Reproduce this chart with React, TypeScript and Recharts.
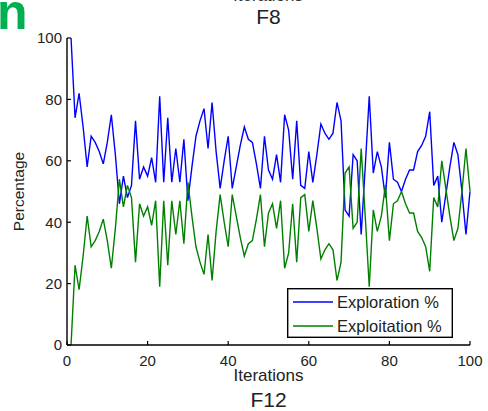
import React from 'react';
import { LineChart, Line, XAxis, YAxis, Legend } from 'recharts';

const iterations: number[] = Array.from({ length: 100 }, (_, i) => i + 1);

const exploration: number[] = [
  100, 74, 82, 71, 58, 68, 66, 63, 59, 66,
  75, 62, 46, 55, 48, 52, 73, 54, 58, 55,
  61, 53, 81, 53, 74, 53, 64, 53, 67, 47,
  58, 68, 73, 77, 64, 79, 63, 51, 60, 68,
  51, 58, 65, 71, 67, 66, 59, 51, 68, 57,
  54, 62, 53, 75, 70, 54, 73, 52, 51, 63,
  53, 62, 72, 69, 67, 69, 79, 73, 44, 42,
  62, 60, 36, 58, 81, 56, 63, 58, 48, 66,
  54, 53, 50, 54, 57, 57, 63, 65, 68, 76,
  52, 55, 40, 49, 58, 66, 62, 50, 36, 50,
];

const exploitation: number[] = [
  0, 26, 18, 29, 42, 32, 34, 37, 41, 34,
  25, 38, 54, 45, 52, 48, 27, 46, 42, 45,
  39, 47, 19, 47, 26, 47, 36, 47, 33, 53,
  42, 32, 27, 23, 36, 21, 37, 49, 40, 32,
  49, 42, 35, 29, 33, 34, 41, 49, 32, 43,
  46, 38, 47, 25, 30, 46, 27, 48, 49, 37,
  47, 38, 28, 31, 33, 31, 21, 27, 56, 58,
  38, 40, 64, 42, 19, 44, 37, 42, 52, 34,
  46, 47, 50, 46, 43, 43, 37, 35, 32, 24,
  48, 45, 60, 51, 42, 34, 38, 50, 64, 50,
];

const xTicks: number[] = [0, 20, 40, 60, 80, 100];
const yTicks: number[] = [0, 20, 40, 60, 80, 100];
const seriesNames: string[] = ['Exploration %', 'Exploitation %'];
const seriesKeys: string[] = ['exploration', 'exploitation'];
const seriesColors: string[] = ['#0000ff', '#008000'];
const topTitle = 'F8';
const bottomTitle = 'F12';
const cutText = 'Iterations';
const cornerLetter = 'n';
const xLabel = 'Iterations';
const yLabel = 'Percentage';

const data = iterations.map((it, i) => ({
  it,
  exploration: exploration[i],
  exploitation: exploitation[i],
}));

const FONT = '"Liberation Sans", Arial, Helvetica, sans-serif';
const AXIS = { stroke: '#000', strokeWidth: 1.4 };

const renderLegend = (props: any) => {
  const payload = ((props.payload || []) as any[])
    .slice()
    .sort((a: any, b: any) => seriesNames.indexOf(a.value) - seriesNames.indexOf(b.value));
  return (
    <svg width={166} height={50} style={{ display: 'block' }}>
      <rect x={0.7} y={0.7} width={164.6} height={48.6} fill="#fff" stroke="#000" strokeWidth={1.4} />
      {payload.map((entry: any, i: number) => (
        <g key={i}>
          <line x1={6} x2={46} y1={14 + i * 24} y2={14 + i * 24} stroke={entry.color} strokeWidth={1.4} />
          <text x={50} y={14 + i * 24 + 6} fontSize={16.5} fontFamily={FONT} fill="#222">
            {entry.value}
          </text>
        </g>
      ))}
    </svg>
  );
};

const YLabel = (props: any) => {
  const vb = props.viewBox || { x: 0, y: 0, width: 0, height: 0 };
  const cx = 18;
  const cy = vb.y + vb.height / 2;
  return (
    <text
      x={cx}
      y={cy}
      transform={`rotate(-90, ${cx}, ${cy})`}
      textAnchor="middle"
      dominantBaseline="central"
      fontSize={15.5}
      fontFamily={FONT}
      fill="#222"
    >
      {yLabel}
    </text>
  );
};

export default function App() {
  return (
    <div style={{ position: 'absolute', left: 0, top: 0, width: 488, height: 411, background: '#fff', fontFamily: FONT }}>
      <LineChart width={488} height={411} data={data} margin={{ top: 38, right: 18, bottom: 42, left: 0 }}>
        <XAxis
          xAxisId="b"
          dataKey="it"
          type="number"
          domain={[0, 100]}
          ticks={xTicks}
          orientation="bottom"
          height={24}
          tickSize={-4}
          tickMargin={14}
          axisLine={AXIS}
          tickLine={{ stroke: '#000', strokeWidth: 1.2 }}
          tick={{ fill: '#222', fontSize: 15, fontFamily: FONT }}
          label={{ value: xLabel, position: 'bottom', offset: 0, fontSize: 17, fill: '#222', fontFamily: FONT }}
        />
        <XAxis
          xAxisId="t"
          dataKey="it"
          type="number"
          domain={[0, 100]}
          ticks={xTicks}
          orientation="top"
          height={0}
          tickSize={-4}
          axisLine={AXIS}
          tickLine={{ stroke: '#000', strokeWidth: 1.2 }}
          tick={false}
        />
        <YAxis
          yAxisId="l"
          type="number"
          domain={[0, 100]}
          ticks={yTicks}
          width={67}
          tickSize={-4}
          tickMargin={9}
          axisLine={AXIS}
          tickLine={{ stroke: '#000', strokeWidth: 1.2 }}
          tick={{ fill: '#222', fontSize: 15, fontFamily: FONT }}
          label={<YLabel />}
        />
        <YAxis
          yAxisId="r"
          type="number"
          orientation="right"
          domain={[0, 100]}
          ticks={yTicks}
          width={0}
          tickSize={-4}
          axisLine={AXIS}
          tickLine={{ stroke: '#000', strokeWidth: 1.2 }}
          tick={false}
        />
        {seriesKeys.map((k, i) => (
          <Line
            key={k}
            xAxisId="b"
            yAxisId="l"
            type="linear"
            dataKey={k}
            name={seriesNames[i]}
            stroke={seriesColors[i]}
            strokeWidth={1.4}
            dot={false}
            activeDot={false}
            isAnimationActive={false}
          />
        ))}
        <Legend
          layout="vertical"
          align="center"
          verticalAlign="middle"
          wrapperStyle={{ left: 287, top: 288, width: 166, height: 50, bottom: 'auto', right: 'auto' }}
          content={renderLegend}
        />
      </LineChart>
      <svg
        width={488}
        height={411}
        style={{ position: 'absolute', left: 0, top: 0, pointerEvents: 'none' }}
      >
        <text x={-3} y={29} fontSize={50} fontWeight="bold" fontFamily={FONT} fill="#00b050">
          {cornerLetter}
        </text>
        <text x={268} y={1} fontSize={17} textAnchor="middle" fontFamily={FONT} fill="#333">
          {cutText}
        </text>
        <text x={268.5} y={24} fontSize={21} textAnchor="middle" fontFamily={FONT} fill="#222">
          {topTitle}
        </text>
        <text x={268.5} y={407} fontSize={21} textAnchor="middle" fontFamily={FONT} fill="#222">
          {bottomTitle}
        </text>
      </svg>
    </div>
  );
}
